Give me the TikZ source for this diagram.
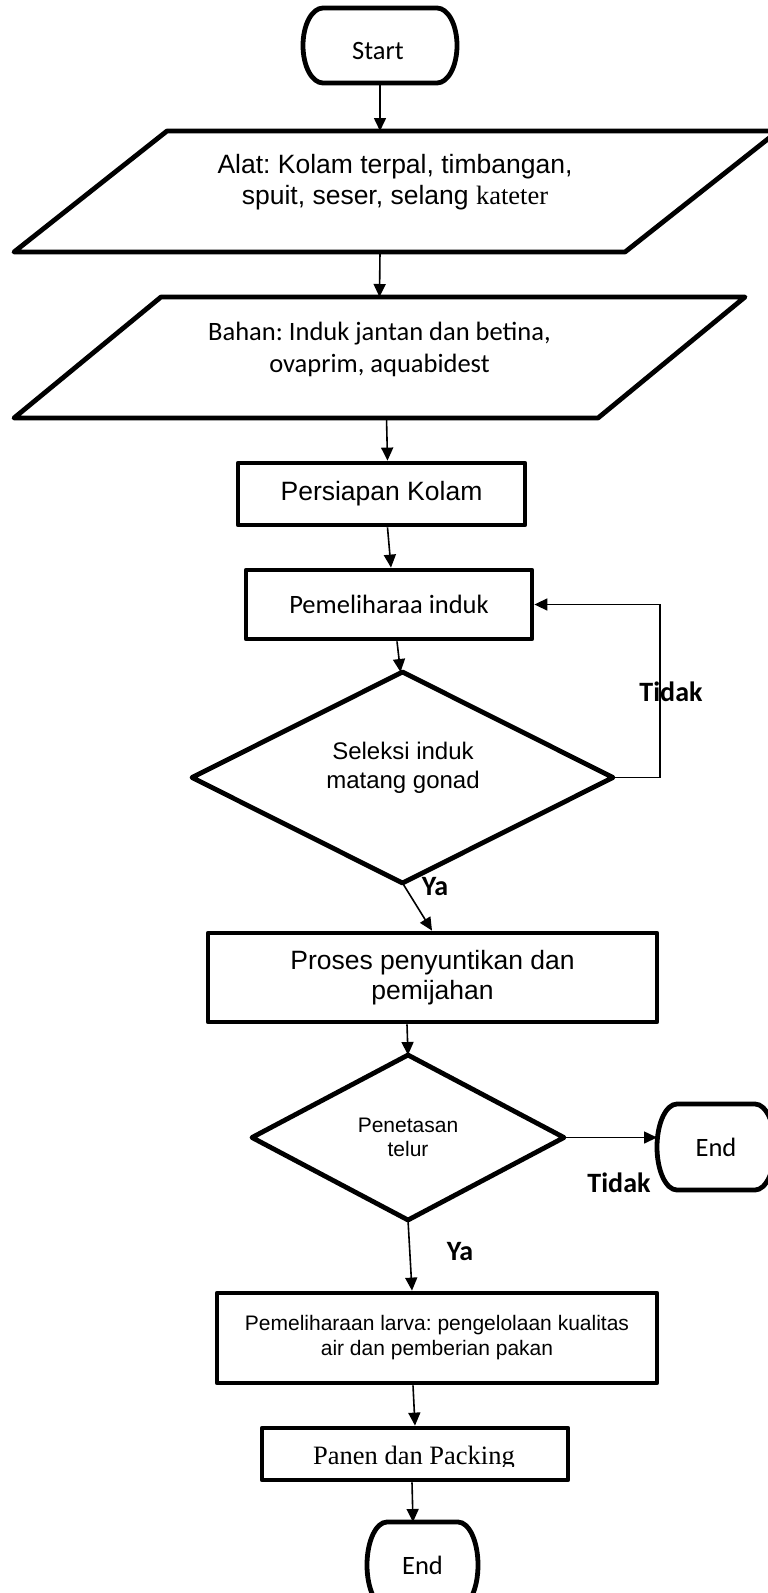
\documentclass[tikz,border=0pt]{standalone}
\usepackage{fontspec}
\setmainfont{Liberation Sans}
\newfontfamily\calibf{Carlito}
\newfontfamily\timesf{Liberation Serif}
\usetikzlibrary{arrows.meta}
\frenchspacing
\newcommand\termline[3]{\draw[border] ([xshift=#2pt]#1.north west) -- ([xshift=-#2pt]#1.north east) arc[start angle=90,end angle=-90,x radius=#2pt,y radius=#3pt] -- ([xshift=#2pt]#1.south west) arc[start angle=270,end angle=90,x radius=#2pt,y radius=#3pt] -- cycle;}
\newcommand\paraline[2]{\draw[border] ([xshift=#2pt]#1.north west) -- (#1.north east) -- ([xshift=-#2pt]#1.south east) -- (#1.south west) -- cycle;}
\newcommand\diamline[1]{\draw[border] (#1.north) -- (#1.east) -- (#1.south) -- (#1.west) -- cycle;}
\begin{document}
\begin{tikzpicture}[x=1pt,y=1pt,
  border/.style={line width=4.8pt, line join=round},
  ghost/.style n args={2}{inner sep=0pt, outer sep=0pt, minimum width=#1pt, minimum height=#2pt, align=center},
  box/.style n args={2}{draw, line width=4.8pt, line join=round, inner sep=0pt, minimum width=#1pt, minimum height=#2pt, align=center},
  txt/.style={inner sep=0pt, align=center},
  conn/.style={line width=1.6pt, -{Triangle[length=13pt,width=12pt]}},
  lbl/.style={inner sep=0pt, font=\calibf\bfseries\fontsize{28}{32}\selectfont},
  arialL/.style={font=\fontsize{26.5}{31}\selectfont},
  calL/.style={font=\calibf\fontsize{26.5}{32}\selectfont}
]
\useasboundingbox (0,0) rectangle (768,-1593);

% Start
\node[ghost={154}{75}] (start) at (380,-45.5) {};
\termline{start}{20}{37.5}
\node[txt, calL] (startT) at (378,-51) {Start};

% Alat
\node[ghost={764}{121}] (alat) at (396,-191.5) {};
\paraline{alat}{153}
\node[txt, arialL] (alatT) at (395,-182.5) {Alat: Kolam terpal, timbangan,\\spuit, seser, selang {\timesf kateter}};

% Bahan
\node[ghost={731}{121}] (bahan) at (379.5,-357.5) {};
\paraline{bahan}{147}
\node[txt, calL] (bahanT) at (379.5,-349) {Bahan: Induk jantan dan betina,\\ovaprim, aquabidest};

% Persiapan
\node[box={287}{62}, arialL] (pers) at (381.5,-494) {Persiapan Kolam};

% Pemeliharaa induk
\node[box={286}{69}, calL] (pemel) at (389,-604.5) {Pemeliharaa induk};

% Seleksi
\node[ghost={421}{211}] (sel) at (402.5,-777.5) {};
\diamline{sel}
\node[txt, font=\fontsize{24}{29}\selectfont] (selT) at (403,-767.5) {Seleksi induk\\matang gonad};

% Proses
\node[box={449}{89}, font=\fontsize{26.5}{30}\selectfont] (proses) at (432.5,-977.5) {Proses penyuntikan dan\\pemijahan};

% Penetasan
\node[ghost={312}{165}, font=\fontsize{21}{24}\selectfont] (pen) at (408,-1137.5) {Penetasan\\telur};
\diamline{pen}

% End right
\node[ghost={118}{86}, calL] (endR) at (716,-1147) {End};
\termline{endR}{20}{43}

% Larva
\node[box={440}{90}, font=\fontsize{21}{25}\selectfont] (larva) at (437,-1338) {Pemeliharaan larva: pengelolaan kualitas\\air dan pemberian pakan};

% Panen
\node[box={306}{52}] (panen) at (415,-1454) {};
\begin{scope}
\clip (262,-1428) rectangle (568,-1466);
\node[txt, anchor=base, font=\timesf\fontsize{26.5}{30}\selectfont] (panenT) at (414,-1464) {Panen dan Packing};
\end{scope}

% End bottom
\node[ghost={111}{86}, calL] (endB) at (422.5,-1565) {End};
\termline{endB}{20}{43}

% Connectors
\draw[conn] (start.south) -- ([xshift=-16pt]alat.north);
\draw[conn] ([xshift=-16pt]alat.south) -- (bahan.north);
\draw[conn] ([xshift=7pt]bahan.south) -- ([xshift=6pt]pers.north);
\draw[conn] ([xshift=6pt]pers.south) -- ([xshift=2pt]pemel.north);
\draw[conn] ([xshift=8pt]pemel.south) -- ([xshift=-2pt]sel.north);
\draw[conn] (sel.east) -- ++(47,0) |- (pemel.east);
\draw[conn] (sel.south) -- ([xshift=-0.5pt]proses.north);
\draw[conn] ([xshift=-25.5pt]proses.south) -- (pen.north);
\draw[conn] (pen.east) -- (pen.east -| endR.west);
\draw[conn] (pen.south) -- ([xshift=-25pt]larva.north);
\draw[conn] ([xshift=-24pt]larva.south) -- (panen.north);
\draw[conn] ([xshift=-3pt]panen.south) -- ([xshift=-9.5pt]endB.north);

% Labels
\node[lbl] (tidak1) at (671,-692) {Tidak};
\node[lbl] (tidak2) at (619,-1183) {Tidak};
\node[lbl] (ya1) at (435,-887) {Ya};
\node[lbl] (ya2) at (460,-1252) {Ya};
\end{tikzpicture}
\end{document}
